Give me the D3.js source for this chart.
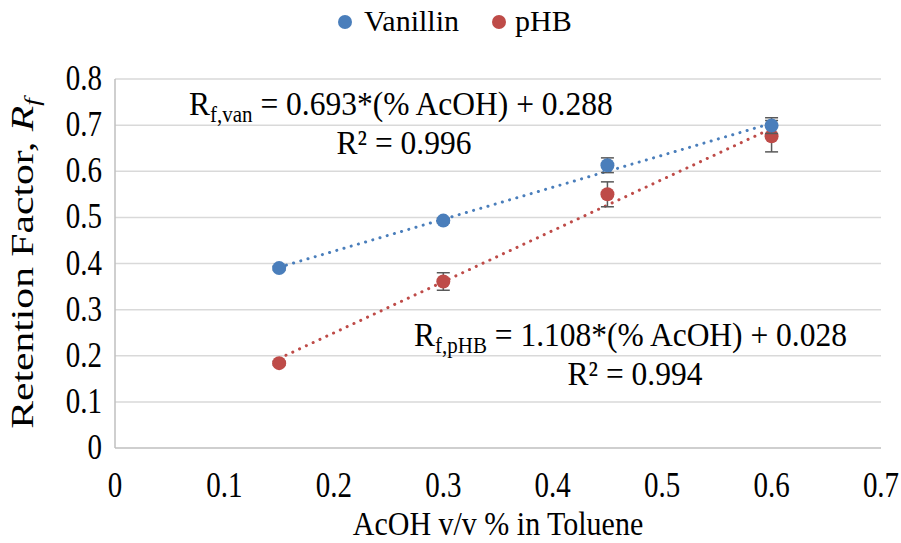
<!DOCTYPE html>
<html>
<head>
<meta charset="utf-8">
<script src="https://cdn.jsdelivr.net/npm/d3@7"></script>
<style>
  body { margin: 0; background: #fff; }
</style>
</head>
<body>
<div id="chart"></div>
<script>
// data
const acoh = [0.15, 0.3, 0.45, 0.6];
const vanillin = [0.390, 0.493, 0.613, 0.699];
const vanillinErr = [0.004, 0.005, 0.016, 0.017];
const phb = [0.184, 0.361, 0.550, 0.676];
const phbErr = [0.004, 0.019, 0.027, 0.034];
const xTicks = [0, 0.1, 0.2, 0.3, 0.4, 0.5, 0.6, 0.7];
const yTicks = [0, 0.1, 0.2, 0.3, 0.4, 0.5, 0.6, 0.7, 0.8];
const fitVan = [0.693, 0.288];
const fitPhb = [1.108, 0.028];

const width = 901, height = 543;
const margin = {top: 79, right: 20, bottom: 95, left: 115};
const blue = "#4a7ebb", red = "#be4b48";
const serif = '"Liberation Serif"';

const svg = d3.select("#chart").append("svg")
  .attr("width", width).attr("height", height);

// text placed at (px, py), glyphs stretched vertically by k (reference looks stretched)
function label(g, px, py, size, anchor, k) {
  return g.append("text")
    .attr("transform", `translate(${px},${py}) scale(1,${k || 1.2})`)
    .attr("text-anchor", anchor || "start")
    .attr("font-size", size)
    .style("font-family", serif)
    .attr("fill", "#000");
}

const x = d3.scaleLinear().domain([0, 0.7]).range([margin.left, 881]);
const y = d3.scaleLinear().domain([0, 0.8]).range([448, margin.top]);

// gridlines
svg.append("g").selectAll("line").data(yTicks.slice(1)).enter().append("line")
  .attr("x1", x(0)).attr("x2", x(0.7))
  .attr("y1", d => y(d)).attr("y2", d => y(d))
  .attr("stroke", "#d9d9d9").attr("stroke-width", 1.5);

// axes lines
svg.append("line").attr("x1", x(0)).attr("x2", x(0.7)).attr("y1", y(0)).attr("y2", y(0))
  .attr("stroke", "#bfbfbf").attr("stroke-width", 1.5);
svg.append("line").attr("x1", x(0)).attr("x2", x(0)).attr("y1", y(0)).attr("y2", y(0.8))
  .attr("stroke", "#bfbfbf").attr("stroke-width", 1.5);

// tick labels
yTicks.forEach(d => label(svg, 102, y(d) + 11, 29, "end").text(d3.format("")(d)));
xTicks.forEach(d => label(svg, x(d), 497, 29, "middle").text(d3.format("")(d)));

// axis titles
label(svg, (x(0) + x(0.7)) / 2, 535, 30, "middle", 1.1).text("AcOH v/v % in Toluene");
const yt = svg.append("text")
  .attr("transform", `translate(33,${(y(0) + y(0.8)) / 2}) rotate(-90) scale(1.3,1)`)
  .attr("text-anchor", "middle").attr("font-size", 32)
  .style("font-family", serif);
yt.append("tspan").text("Retention Factor, ");
yt.append("tspan").attr("font-style", "italic").text("R");
yt.append("tspan").attr("font-style", "italic").attr("font-size", 21).attr("dy", 6).text("f");

// trendlines
const line = d3.line().x(d => x(d[0])).y(d => y(d[1]));
function trend(fit, color) {
  const ends = [acoh[0], acoh[acoh.length - 1]].map(v => [v, fit[0] * v + fit[1]]);
  svg.append("path").attr("d", line(ends)).attr("fill", "none")
    .attr("stroke", color).attr("stroke-width", 3)
    .attr("stroke-linecap", "round").attr("stroke-dasharray", "0.1 7.4");
}
trend(fitVan, blue);
trend(fitPhb, red);

// series with error bars
function series(vals, errs, color) {
  const g = svg.append("g");
  const eb = g.selectAll("g.err").data(acoh).enter().append("g").attr("class", "err")
    .attr("stroke", "#595959").attr("stroke-width", 1.5);
  eb.append("line").attr("x1", d => x(d)).attr("x2", d => x(d))
    .attr("y1", (d, i) => y(vals[i] - errs[i])).attr("y2", (d, i) => y(vals[i] + errs[i]));
  eb.append("line").attr("x1", d => x(d) - 6.5).attr("x2", d => x(d) + 6.5)
    .attr("y1", (d, i) => y(vals[i] - errs[i])).attr("y2", (d, i) => y(vals[i] - errs[i]));
  eb.append("line").attr("x1", d => x(d) - 6.5).attr("x2", d => x(d) + 6.5)
    .attr("y1", (d, i) => y(vals[i] + errs[i])).attr("y2", (d, i) => y(vals[i] + errs[i]));
  g.selectAll("circle").data(acoh).enter().append("circle")
    .attr("cx", d => x(d)).attr("cy", (d, i) => y(vals[i]))
    .attr("r", 7).attr("fill", color);
}
series(phb, phbErr, red);
series(vanillin, vanillinErr, blue);

// equations
function equation(px, py, sub, fit, r2, r2x) {
  const t = label(svg, px, py, 31.5, "start", 1.1);
  t.append("tspan").text("R");
  t.append("tspan").attr("font-size", 21).attr("dy", 6).text(sub);
  t.append("tspan").attr("dy", -6).text(` = ${fit[0].toFixed(3)}*(% AcOH) + ${fit[1].toFixed(3)}`);
  label(svg, r2x, py + 39, 31.5, "middle", 1.1).text(`R² = ${r2}`);
}
equation(189, 115, "f,van", fitVan, "0.996", 404);
equation(414, 346, "f,pHB", fitPhb, "0.994", 635);

// legend
const legend = [["Vanillin", blue, 345, 364], ["pHB", red, 499, 515]];
legend.forEach(d => {
  svg.append("circle").attr("cx", d[2]).attr("cy", 22).attr("r", 7).attr("fill", d[1]);
  label(svg, d[3], 31, 30, "start", 1).text(d[0]);
});
</script>
</body>
</html>
